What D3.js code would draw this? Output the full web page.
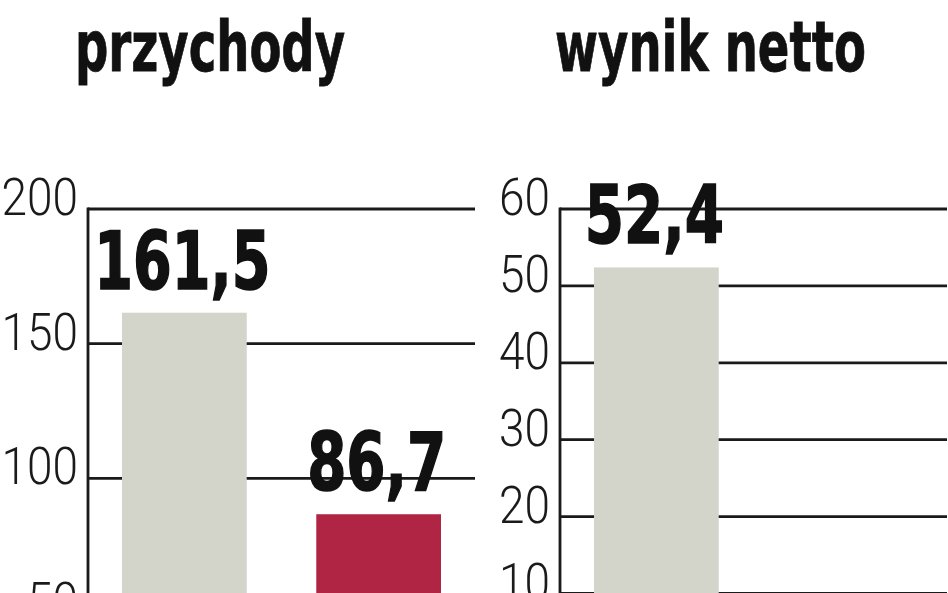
<!DOCTYPE html>
<html lang="pl">

<head>
    <meta charset="UTF-8">
    <title>przychody / wynik netto</title>
    <script src="https://d3js.org/d3.v7.min.js"></script>
    <style>
        html,
        body {
            margin: 0;
            height: 100%;
            overflow: hidden;
            background: #fff;
        }
    </style>
</head>

<body>
    <svg id="svg"></svg>
    <script>
        const width = 948;
        const height = 593;

        // data
        const periods = ['okres 1', 'okres 2'];
        const revenue = [161.5, 86.7];
        const revenueTicks = [0, 50, 100, 150, 200];
        const netResult = [52.4];
        const netTicks = [0, 10, 20, 30, 40, 50, 60];
        const titles = ['przychody', 'wynik netto'];

        const colors = ['#d3d5ca', '#b02543'];
        const ink = '#1a1a1a';
        const boldFont = '"DejaVu Sans Condensed", "Liberation Sans Narrow", "Roboto", sans-serif';
        const lightFont = '"Roboto", "DejaVu Sans Condensed", sans-serif';

        const svg = d3.select('#svg')
            .attr('width', width)
            .attr('height', height);

        const fmt = v => d3.format('.1f')(v).replace('.', ',');

        const panel = (opts) => {
            const g = svg.append('g');

            const x = d3.scaleBand()
                .domain(periods)
                .range([opts.left, opts.right])
                .paddingInner(0.358)
                .paddingOuter(0.175);

            const y = d3.scaleLinear()
                .domain(opts.domain)
                .range([opts.bottom, opts.top]);

            // title
            g.append('text')
                .attr('x', opts.titleX)
                .attr('y', 71)
                .attr('font-family', boldFont)
                .attr('font-weight', 'bold')
                .attr('font-size', 70)
                .attr('textLength', opts.titleLen)
                .attr('lengthAdjust', 'spacingAndGlyphs')
                .attr('fill', '#111')
                .attr('stroke', '#111')
                .attr('stroke-width', 0.8)
                .text(opts.title);

            // grid lines
            g.selectAll('.grid').data(opts.ticks).join('line')
                .attr('class', 'grid')
                .attr('x1', opts.left)
                .attr('x2', opts.right)
                .attr('y1', d => y(d))
                .attr('y2', d => y(d))
                .attr('stroke', ink)
                .attr('stroke-width', 2.8);

            // tick labels
            g.selectAll('.tick').data(opts.ticks).join('text')
                .attr('class', 'tick')
                .attr('x', opts.left - 10)
                .attr('y', d => y(d) + 6)
                .attr('text-anchor', 'end')
                .attr('font-family', lightFont)
                .attr('font-weight', 300)
                .attr('font-size', 52)
                .attr('textLength', d => String(d).length * 25.5)
                .attr('lengthAdjust', 'spacingAndGlyphs')
                .attr('fill', ink)
                .text(d => d);

            // bars
            g.selectAll('.bar').data(opts.values).join('rect')
                .attr('class', 'bar')
                .attr('x', (d, i) => x(periods[i]))
                .attr('width', x.bandwidth())
                .attr('y', d => y(d))
                .attr('height', d => y(0) - y(d))
                .attr('fill', (d, i) => colors[i]);

            // axis line
            g.append('line')
                .attr('x1', opts.left)
                .attr('x2', opts.left)
                .attr('y1', opts.top - 1.4)
                .attr('y2', height + 5)
                .attr('stroke', ink)
                .attr('stroke-width', 2.8);

            // value labels
            g.selectAll('.val').data(opts.values).join('text')
                .attr('class', 'val')
                .attr('x', (d, i) => x(periods[i]) + x.bandwidth() / 2 - 2)
                .attr('y', d => y(d) - 24)
                .attr('text-anchor', 'middle')
                .attr('font-family', boldFont)
                .attr('font-weight', 'bold')
                .attr('font-size', 80)
                .attr('textLength', d => {
                    const s = fmt(d);
                    return (s.length - 1) * 37 + 28;
                })
                .attr('lengthAdjust', 'spacingAndGlyphs')
                .attr('fill', '#111')
                .attr('stroke', '#111')
                .attr('stroke-width', 1.6)
                .text(d => fmt(d));
        };

        panel({
            title: titles[0], titleX: 75, titleLen: 270,
            left: 88, right: 475, top: 209, bottom: 747.8,
            domain: [0, 200], ticks: revenueTicks, values: revenue
        });

        panel({
            title: titles[1], titleX: 555, titleLen: 311,
            left: 560, right: 947, top: 209, bottom: 670.4,
            domain: [0, 60], ticks: netTicks, values: netResult
        });
    </script>
</body>

</html>
